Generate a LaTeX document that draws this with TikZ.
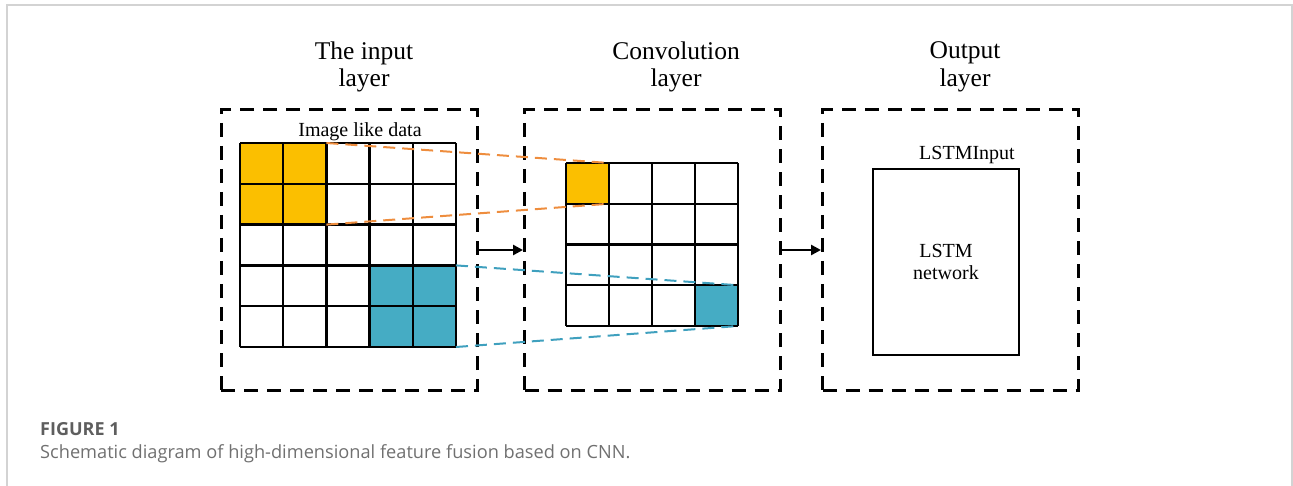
\documentclass[tikz,border=0pt]{standalone}
\usepackage{fontspec}
\setmainfont{Liberation Serif}
\newfontfamily\capfont{Open Sans}
\usetikzlibrary{arrows.meta}

\definecolor{cellyellow}{HTML}{FBBF00}
\definecolor{cellblue}{HTML}{45ACC4}
\definecolor{lineorange}{HTML}{EE8D3E}
\definecolor{lineblue}{HTML}{3FA0BE}
\definecolor{capgray}{HTML}{5E5E5E}
\definecolor{textgray}{HTML}{707070}
\definecolor{framegray}{HTML}{D3D3D3}

\tikzset{
  layerbox/.style={draw, line width=3pt, dash pattern=on 14pt off 9pt,
    minimum width=256pt, minimum height=280pt, inner sep=0pt},
  layertitle/.style={align=center, inner sep=0pt,
    font=\fontsize{25.5}{27.5}\selectfont},
  gridline/.style={line width=2.4pt},
  linkline/.style={line width=2pt, dash pattern=on 12pt off 7pt},
  flow/.style={line width=2.6pt, -{Triangle[length=10pt,width=10pt]}},
  smalltext/.style={font=\fontsize{20}{21.5}\selectfont, inner sep=0pt}
}

\begin{document}
\begin{tikzpicture}[x=1pt,y=-1pt]
\useasboundingbox (0,0) rectangle (1293,486);
% outer frame
\draw[framegray, line width=1.5pt] (7,488) -- (7,5) -- (1292,5) -- (1292,488);

% layer boxes
\node[layerbox] (inbox) at (349,250) {};
\node[layerbox] (convbox) at (652.5,250) {};
\node[layerbox] (outbox) at (950.5,250) {};

\node[layertitle] (tin) at (364,67) {The input\\layer};
\node[layertitle] (tconv) at (676,67) {Convolution\\layer};
\node[layertitle] (tout) at (965,67) {Output\\layer};

% input grid 5x5
\fill[cellyellow] (240,143) rectangle (326.4,224.6);
\fill[cellblue] (369.6,265.4) rectangle (456,347);
\foreach \i in {0,...,5}{
  \draw[gridline] (240+43.2*\i,143) -- (240+43.2*\i,347);
  \draw[gridline] (240,143+40.8*\i) -- (456,143+40.8*\i);
}
\node[smalltext, anchor=base] (imgdata) at (360,137) {Image like data};

% convolution grid 4x4
\fill[cellyellow] (566,163) rectangle (609,203.75);
\fill[cellblue] (695,285.25) rectangle (738,326);
\foreach \i in {0,...,4}{
  \draw[gridline] (566+43*\i,163) -- (566+43*\i,326);
  \draw[gridline] (566,163+40.75*\i) -- (738,163+40.75*\i);
}

% kernel corners
\coordinate (ya) at (326.4,143);
\coordinate (yb) at (326.4,224.6);
\coordinate (ba) at (456,265.4);
\coordinate (bb) at (456,347);
\coordinate (cya) at (609,163);
\coordinate (cyb) at (609,203.75);
\coordinate (cba) at (738,285.25);
\coordinate (cbb) at (738,326);
\draw[linkline, lineorange] (ya) -- (cya);
\draw[linkline, lineorange] (yb) -- (cyb);
\draw[linkline, lineblue] (ba) -- (cba);
\draw[linkline, lineblue] (bb) -- (cbb);

% output
\node[smalltext, anchor=base] (lstmin) at (967,160) {LSTMInput};
\node[draw, line width=2pt, minimum width=146pt, minimum height=186pt,
  align=center, font=\fontsize{20}{21.5}\selectfont] (lstm) at (946,262) {LSTM\\network};

% arrows
\draw[flow] (inbox.east) -- (convbox.west);
\draw[flow] (convbox.east) -- (outbox.west);

% caption
\node[anchor=base west, inner sep=0pt, text=capgray,
  font=\capfont\bfseries\fontsize{18}{20}\selectfont] (fig) at (40,435) {FIGURE 1};
\node[anchor=base west, inner sep=0pt, text=textgray,
  font=\capfont\fontsize{18.2}{20}\selectfont] (cap) at (40,458)
  {Schematic diagram of high-dimensional feature fusion based on CNN.};
\end{tikzpicture}
\end{document}
